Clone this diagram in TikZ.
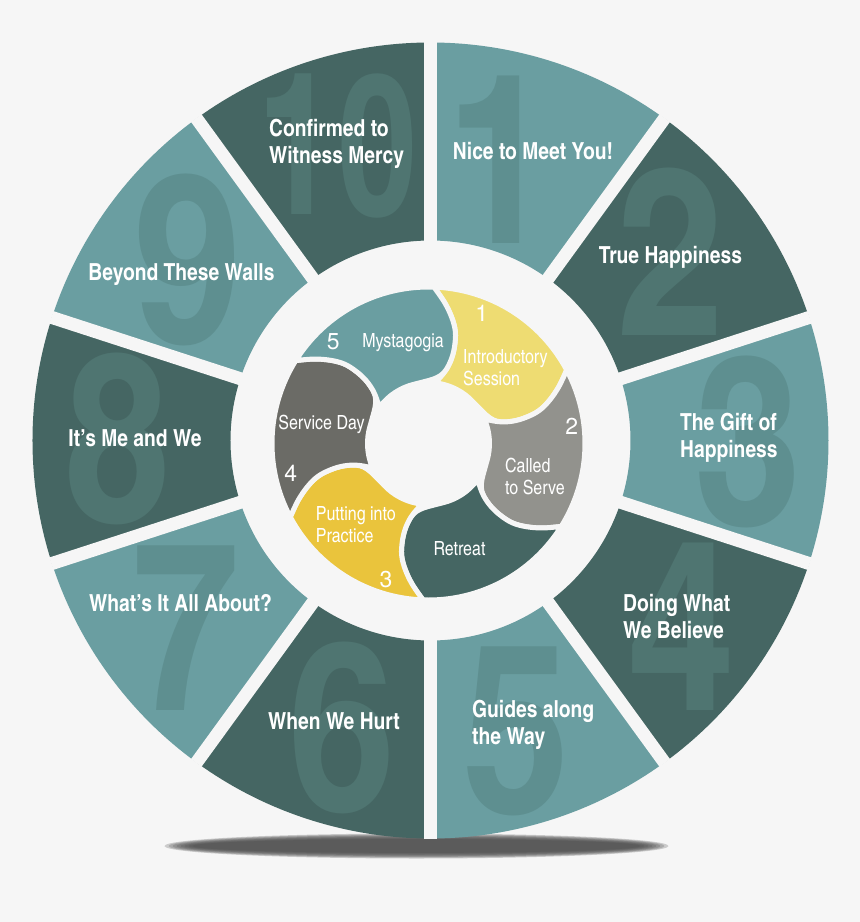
\documentclass[tikz,border=0pt]{standalone}
\usepackage{fontspec}
\usepackage{tikz}
\newfontfamily\cnfont{texgyreheroscn}[Extension=.otf, UprightFont=*-regular, BoldFont=*-bold]
\newfontfamily\numfont{TeX Gyre Heros}
\definecolor{bg}{HTML}{F6F6F6}
\definecolor{lteal}{HTML}{6A9EA1}
\definecolor{dteal}{HTML}{456663}
\definecolor{lnum}{HTML}{5E8F90}
\definecolor{dnum}{HTML}{4F7571}
\definecolor{ltyellow}{HTML}{EEDC72}
\definecolor{gold}{HTML}{EAC43C}
\definecolor{ltgray}{HTML}{92928D}
\definecolor{dkgray}{HTML}{6B6B66}
\tikzstyle{seglabel} = [text=white, inner sep=0, align=center,
    font=\cnfont\bfseries\fontsize{23.5}{27}\selectfont]
\tikzstyle{leftlabel} = [seglabel, anchor=west, align=left]
\tikzstyle{numeral} = [inner sep=0, font=\cnfont\bfseries\fontsize{236}{236}\selectfont]
\tikzstyle{numten} = [numeral, xscale=0.74, yscale=0.84]
\tikzstyle{gap} = [draw=bg, line width=13pt]
\tikzstyle{blob} = [draw=bg, line width=5pt]
\tikzstyle{steplabel} = [text=white, inner sep=0, align=left,
    font=\cnfont\fontsize{19.5}{22}\selectfont]
\tikzstyle{stepnum} = [text=white, inner sep=0, font=\numfont\fontsize{23}{23}\selectfont]
% one paisley of the inner cycle, tail at angle #1
\newcommand{\paisley}[2]{%
  \begin{scope}[shift={(-2,-3)}, rotate=#1]
    \filldraw[blob, fill=#2] (0:156.5) arc[start angle=0, end angle=-60, radius=156.5]
      -- plot[smooth, tension=0.6] coordinates {(-60:156.5) (-64.5:142) (-68.5:128)
         (-71.5:115) (-73:101) (-73.2:88) (-71.5:76) (-68:69) (-62:64.5) (-54:62) (-45:61)}
      arc[start angle=-45, end angle=-5, radius=61]
      -- plot[smooth, tension=0.6] coordinates {(-5:62) (-8:67) (-11.5:76) (-13.2:88)
         (-13:101) (-11.5:115) (-8.5:128) (-4.5:142) (0:156.5)}
      -- cycle;
  \end{scope}}

\begin{document}
\begin{tikzpicture}[x=1pt, y=1pt]
    \useasboundingbox (-430.5,-481.5) rectangle (429.5,440.5);
    \fill[bg] (-430.5,-481.5) rectangle (429.5,440.5);
    % shadow under the wheel
    \foreach \i in {0,...,7}
        \fill[black!70, opacity=0.25] (-14,-405.5) ellipse [x radius=252-4*\i, y radius=12.5-0.8*\i];
    % outer wheel
    \foreach \n/\fc/\nc/\nx/\ny/\ns in {1/lteal/lnum/69.5/280.5/numeral, 2/dteal/dnum/241/188.5/numeral,
        3/lteal/lnum/318/-1/numeral, 4/dteal/dnum/250.5/-186.5/numeral, 5/lteal/lnum/86/-290.5/numeral,
        6/dteal/dnum/-88/-287/numeral, 7/lteal/lnum/-244.5/-188/numeral, 8/dteal/dnum/-313.5/2/numeral,
        9/lteal/lnum/-243.5/181/numeral, 10/dteal/dnum/-93/294/numten} {
        \pgfmathsetmacro\a{126-36*\n}
        \pgfmathsetmacro\b{\a-36}
        \begin{scope}
            \clip (\a:398) arc[start angle=\a, end angle=\b, radius=398]
                -- (\b:200) arc[start angle=\b, end angle=\a, radius=200] -- cycle;
            \fill[\fc] (-400,-400) rectangle (400,400);
            \node[\ns, text=\nc] (num\n) at (\nx,\ny) {\n};
        \end{scope}
    }
    \foreach \a in {90,54,...,-234}
        \draw[gap] (\a:190) -- (\a:398.5);
    \node[seglabel] (nice) at (102.5,289.5) {Nice to Meet You!};
    \node[seglabel] (truehappy) at (240,183.5) {True Happiness};
    \node[leftlabel] (gift) at (249.5,3) {The Gift of\\Happiness};
    \node[leftlabel] (doing) at (192.5,-176) {Doing What\\We Believe};
    \node[leftlabel] (guides) at (41.5,-284.5) {Guides along\\the Way};
    \node[seglabel] (hurt) at (-96.5,-280.5) {When We Hurt};
    \node[seglabel] (about) at (-250,-162.5) {What’s It All About?};
    \node[seglabel] (meandwe) at (-295.5,2.5) {It’s Me and We};
    \node[seglabel] (walls) at (-249,165.5) {Beyond These Walls};
    \node[leftlabel] (mercy) at (-161.5,297) {Confirmed to\\Witness Mercy};
    % inner cycle
    \paisley{88}{ltyellow}
    \paisley{28}{ltgray}
    \paisley{-32}{dteal}
    \paisley{-92}{gold}
    \paisley{-152}{dkgray}
    \paisley{148}{lteal}
    \node[stepnum] (s1) at (51.2,127.2) {1};
    \node[steplabel, anchor=west] (intro) at (32.5,73.3) {Introductory\\Session};
    \node[stepnum] (s2) at (141.2,13.8) {2};
    \node[steplabel, anchor=west] (called) at (74.5,-35.8) {Called\\to Serve};
    \node[steplabel] (retreat) at (29,-108.5) {Retreat};
    \node[stepnum] (s3) at (-44.5,-138.8) {3};
    \node[steplabel, anchor=west] (practice) at (-114.8,-84) {Putting into\\Practice};
    \node[stepnum] (s4) at (-139.8,-32.8) {4};
    \node[steplabel] (service) at (-109,16.5) {Service Day};
    \node[stepnum] (s5) at (-97.2,98.8) {5};
    \node[steplabel] (mysta) at (-27.5,97.5) {Mystagogia};
\end{tikzpicture}
\end{document}
